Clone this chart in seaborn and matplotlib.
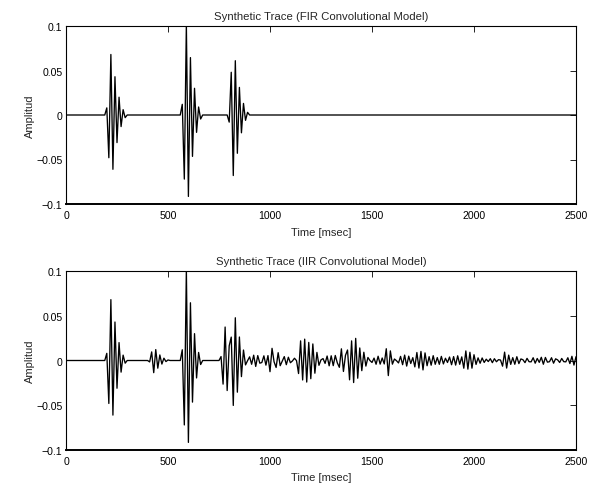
import numpy as np
import pandas as pd
import matplotlib
matplotlib.use("Agg")
import matplotlib.pyplot as plt
import seaborn as sns

# ---------------- data ----------------
dt_ms = 10                     # sample interval of the traces
t_max = 2500
# wavelet samples (amplitude at 0, 10, 20 ... ms after the reflector)
wavelet = [0.008, -0.048, 0.068, -0.061, 0.043, -0.031, 0.020, -0.013, 0.006, -0.003]

# FIR model: primary reflectors only
fir_times = [200, 570, 800]
fir_amps = [1.0, 1.5, -1.0]

# IIR model: primaries plus reverberations
iir_times = [200, 410, 570, 760, 800, 880, 910, 950, 990, 1010, 1050, 1100,
             1130, 1160, 1190, 1240, 1270, 1300, 1330, 1370, 1400, 1440,
             1480, 1510, 1560, 1580, 1620, 1650, 1700, 1730, 1780, 1820,
             1870, 1900, 1940, 1970, 2020, 2070, 2130, 2190, 2230, 2270,
             2320, 2360, 2400, 2440, 2470]
iir_amps = [1.0, -0.2, 1.5, 0.55, -0.9, 0.06, -0.07, 0.1, 0.2, -0.25, 0.12, 0.06,
            0.35, -0.2, 0.15, 0.06, -0.06, 0.05, 0.22, -0.38, 0.2, 0.06,
            -0.05, 0.05, -0.25, 0.1, 0.06, -0.06, 0.12, -0.1, 0.06, 0.05,
            -0.06, 0.05, 0.14, -0.06, 0.03, -0.03, 0.14, 0.05, -0.05, 0.06,
            -0.05, 0.06, -0.05, 0.06, -0.05]

x_ticks = [0, 500, 1000, 1500, 2000, 2500]
x_tick_labels = ["0", "500", "1000", "1500", "2000", "2500"]
y_ticks = [-0.1, -0.05, 0, 0.05, 0.1]
y_tick_labels = ["\u22120.1", "\u22120.05", "0", "0.05", "0.1"]
titles = ["Synthetic Trace (FIR Convolutional Model)",
          "Synthetic Trace (IIR Convolutional Model)"]
x_label = "Time [msec]"
y_label = "Amplitud"


def build_trace(times, amps):
    n = t_max // dt_ms + 1
    refl = np.zeros(n)
    for t, a in zip(times, amps):
        refl[int(round(t / dt_ms))] += a
    y = np.convolve(refl, wavelet)[:n]
    return pd.DataFrame({"time": np.arange(n) * dt_ms, "amp": y})


# ---------------- styling ----------------
sns.set_theme(style="white")
plt.rcParams["font.family"] = ["Liberation Sans", "DejaVu Sans"]
plt.rcParams["axes.unicode_minus"] = True

fig = plt.figure(figsize=(5.97, 4.85), dpi=100)
W, H = 597, 485
ax1 = fig.add_axes([66 / W, (H - 205) / H, 510 / W, 178 / H])
ax2 = fig.add_axes([66 / W, (H - 451) / H, 510 / W, 179 / H])

for ax, (times, amps), title in zip(
        [ax1, ax2], [(fir_times, fir_amps), (iir_times, iir_amps)], titles):
    df = build_trace(times, amps)
    sns.lineplot(data=df, x="time", y="amp", ax=ax, color="black",
                 linewidth=0.95, estimator=None, sort=False)
    ax.set_xlim(0, 2500)
    ax.set_ylim(-0.1, 0.1)
    ax.set_xticks(x_ticks)
    ax.set_xticklabels(x_tick_labels)
    ax.set_yticks(y_ticks)
    ax.set_yticklabels(y_tick_labels)
    ax.tick_params(direction="in", length=4, width=0.6, top=True, right=True,
                   labelsize=7.6, colors="black")
    ax.tick_params(axis="x", pad=4.5)
    ax.tick_params(axis="y", pad=2.5)
    for side, sp in ax.spines.items():
        sp.set_visible(True)
        sp.set_color("black")
        sp.set_linewidth(0.8)
    ax.spines["bottom"].set_linewidth(1.4)
    ax.set_title(title, fontsize=8.2, pad=5)
    ax.set_xlabel(x_label, fontsize=8.0, labelpad=4.5)
    ax.set_ylabel(y_label, fontsize=8.0, labelpad=0.5)
    ax.grid(False)

fig.savefig("out.png", dpi=100)
